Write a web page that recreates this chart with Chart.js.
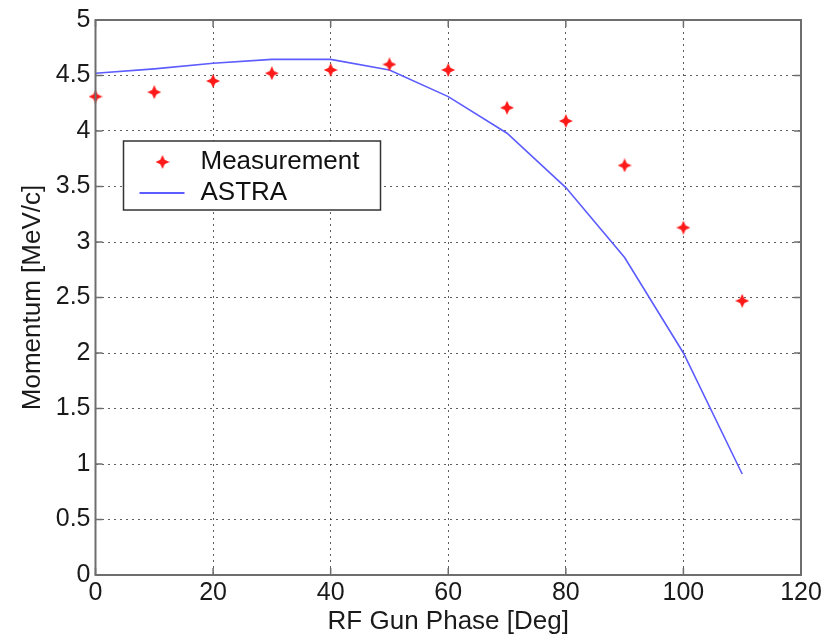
<!DOCTYPE html>
<html>
<head>
<meta charset="utf-8">
<script src="https://cdn.jsdelivr.net/npm/chart.js@4/dist/chart.umd.min.js"></script>
<style>
html, body { margin: 0; padding: 0; background: #fff; }
#wrap { width: 835px; height: 636px; }
</style>
</head>
<body>
<div id="wrap"><canvas id="chart" width="835" height="636"></canvas></div>
<script>
// values
var phase = [0, 10, 20, 30, 40, 50, 60, 70, 80, 90, 100, 110];
var measured = [4.31, 4.35, 4.45, 4.52, 4.55, 4.60, 4.55, 4.21, 4.09, 3.69, 3.13, 2.47];
var astra = [4.52, 4.56, 4.61, 4.645, 4.645, 4.55, 4.31, 3.98, 3.49, 2.86, 2.00, 0.91];

var xTicks = [0, 20, 40, 60, 80, 100, 120];
var yTicks = [0, 0.5, 1, 1.5, 2, 2.5, 3, 3.5, 4, 4.5, 5];
var seriesNames = ['Measurement', 'ASTRA'];
var xTitle = 'RF Gun Phase [Deg]';
var yTitle = 'Momentum [MeV/c]';

var FONT = '"Liberation Sans", Arial, sans-serif';

// matlab style 4 point star marker
function makeStar(size, color) {
	var c = document.createElement('canvas');
	c.width = size; c.height = size;
	var g = c.getContext('2d');
	var m = size / 2, ri = size * 0.22;
	g.fillStyle = color;
	g.beginPath();
	for (var i = 0; i < 8; i++) {
		var a = i * Math.PI / 4 - Math.PI / 2;
		var rr = (i % 2 === 0) ? m : ri;
		g.lineTo(m + rr * Math.cos(a), m + rr * Math.sin(a));
	}
	g.closePath();
	g.fill();
	return c;
}
var star = makeStar(14, '#ff1a1a');

function pairs(xs, ys) {
	return xs.map(function(x, i){ return {x: x, y: ys[i]}; });
}

// frame, inner ticks and the boxed legend
var framePlugin = {
	id: 'frame',
	afterDraw: function(chart) {
		var ctx = chart.ctx, a = chart.chartArea;
		var sx = chart.scales.x, sy = chart.scales.y;
		ctx.save();
		ctx.strokeStyle = '#6e6e6e';
		ctx.lineWidth = 2;
		ctx.strokeRect(a.left, a.top, a.right - a.left, a.bottom - a.top);

		ctx.lineWidth = 1.5;
		ctx.beginPath();
		xTicks.forEach(function(v){
			var px = sx.getPixelForValue(v);
			ctx.moveTo(px, a.bottom); ctx.lineTo(px, a.bottom - 7);
			ctx.moveTo(px, a.top); ctx.lineTo(px, a.top + 7);
		});
		yTicks.forEach(function(v){
			var py = sy.getPixelForValue(v);
			ctx.moveTo(a.left, py); ctx.lineTo(a.left + 7, py);
			ctx.moveTo(a.right, py); ctx.lineTo(a.right - 7, py);
		});
		ctx.stroke();

		// legend
		var lx = a.left + 28, ly = a.top + 121, lw = 257, lh = 69;
		ctx.fillStyle = '#fff';
		ctx.fillRect(lx, ly, lw, lh);
		ctx.strokeStyle = '#333';
		ctx.lineWidth = 1.5;
		ctx.strokeRect(lx, ly, lw, lh);

		ctx.drawImage(star, lx + 39 - 7, ly + 21 - 7);
		ctx.strokeStyle = chart.data.datasets[1].borderColor;
		ctx.lineWidth = 2;
		ctx.beginPath();
		ctx.moveTo(lx + 16, ly + 52); ctx.lineTo(lx + 61, ly + 52);
		ctx.stroke();

		ctx.fillStyle = '#111';
		ctx.font = '26px ' + FONT;
		ctx.textBaseline = 'middle';
		ctx.fillText(chart.data.datasets[0].label, lx + 77, ly + 21);
		ctx.fillText(chart.data.datasets[1].label, lx + 77, ly + 52);
		ctx.restore();
	}
};

var chart = new Chart(document.getElementById('chart'), {
	type: 'scatter',
	data: {
		datasets: [
			{
				label: seriesNames[0],
				data: pairs(phase, measured),
				pointStyle: star,
				showLine: false,
				clip: false,
				order: 1
			},
			{
				label: seriesNames[1],
				data: pairs(phase, astra),
				showLine: true,
				borderColor: '#5c5cff',
				borderWidth: 1.6,
				pointRadius: 0,
				fill: false,
				tension: 0,
				order: 2
			}
		]
	},
	options: {
		responsive: false,
		animation: false,
		layout: { padding: { top: 15, right: 34, left: 0, bottom: 0 } },
		plugins: {
			legend: { display: false },
			tooltip: { enabled: false }
		},
		scales: {
			x: {
				type: 'linear',
				min: 0, max: 120,
				afterBuildTicks: function(s){ s.ticks = xTicks.map(function(v){ return {value: v}; }); },
				afterFit: function(s){ s.height = 61; },
				ticks: {
					font: { family: FONT, size: 25 },
					color: '#1a1a1a',
					padding: 3,
					maxRotation: 0,
					autoSkip: false
				},
				grid: { color: 'rgba(40,40,40,0.75)', lineWidth: 1, drawTicks: false },
				border: { display: false, dash: [2, 4] },
				title: {
					display: true,
					text: xTitle,
					font: { family: FONT, size: 26, lineHeight: 1 },
					color: '#1a1a1a',
					padding: { top: 0, bottom: 1 }
				}
			},
			y: {
				type: 'linear',
				min: 0, max: 5,
				afterBuildTicks: function(s){ s.ticks = yTicks.map(function(v){ return {value: v}; }); },
				afterFit: function(s){ s.width = 95.5; },
				ticks: {
					font: { family: FONT, size: 25 },
					color: '#1a1a1a',
					padding: 5,
					autoSkip: false,
					callback: function(v){ return String(v); }
				},
				grid: { color: 'rgba(40,40,40,0.75)', lineWidth: 1, drawTicks: false },
				border: { display: false, dash: [2, 4] },
				title: {
					display: true,
					text: yTitle,
					font: { family: FONT, size: 26, lineHeight: 1 },
					color: '#1a1a1a',
					padding: { top: 20, bottom: 0 }
				}
			}
		}
	},
	plugins: [framePlugin]
});
</script>
</body>
</html>
